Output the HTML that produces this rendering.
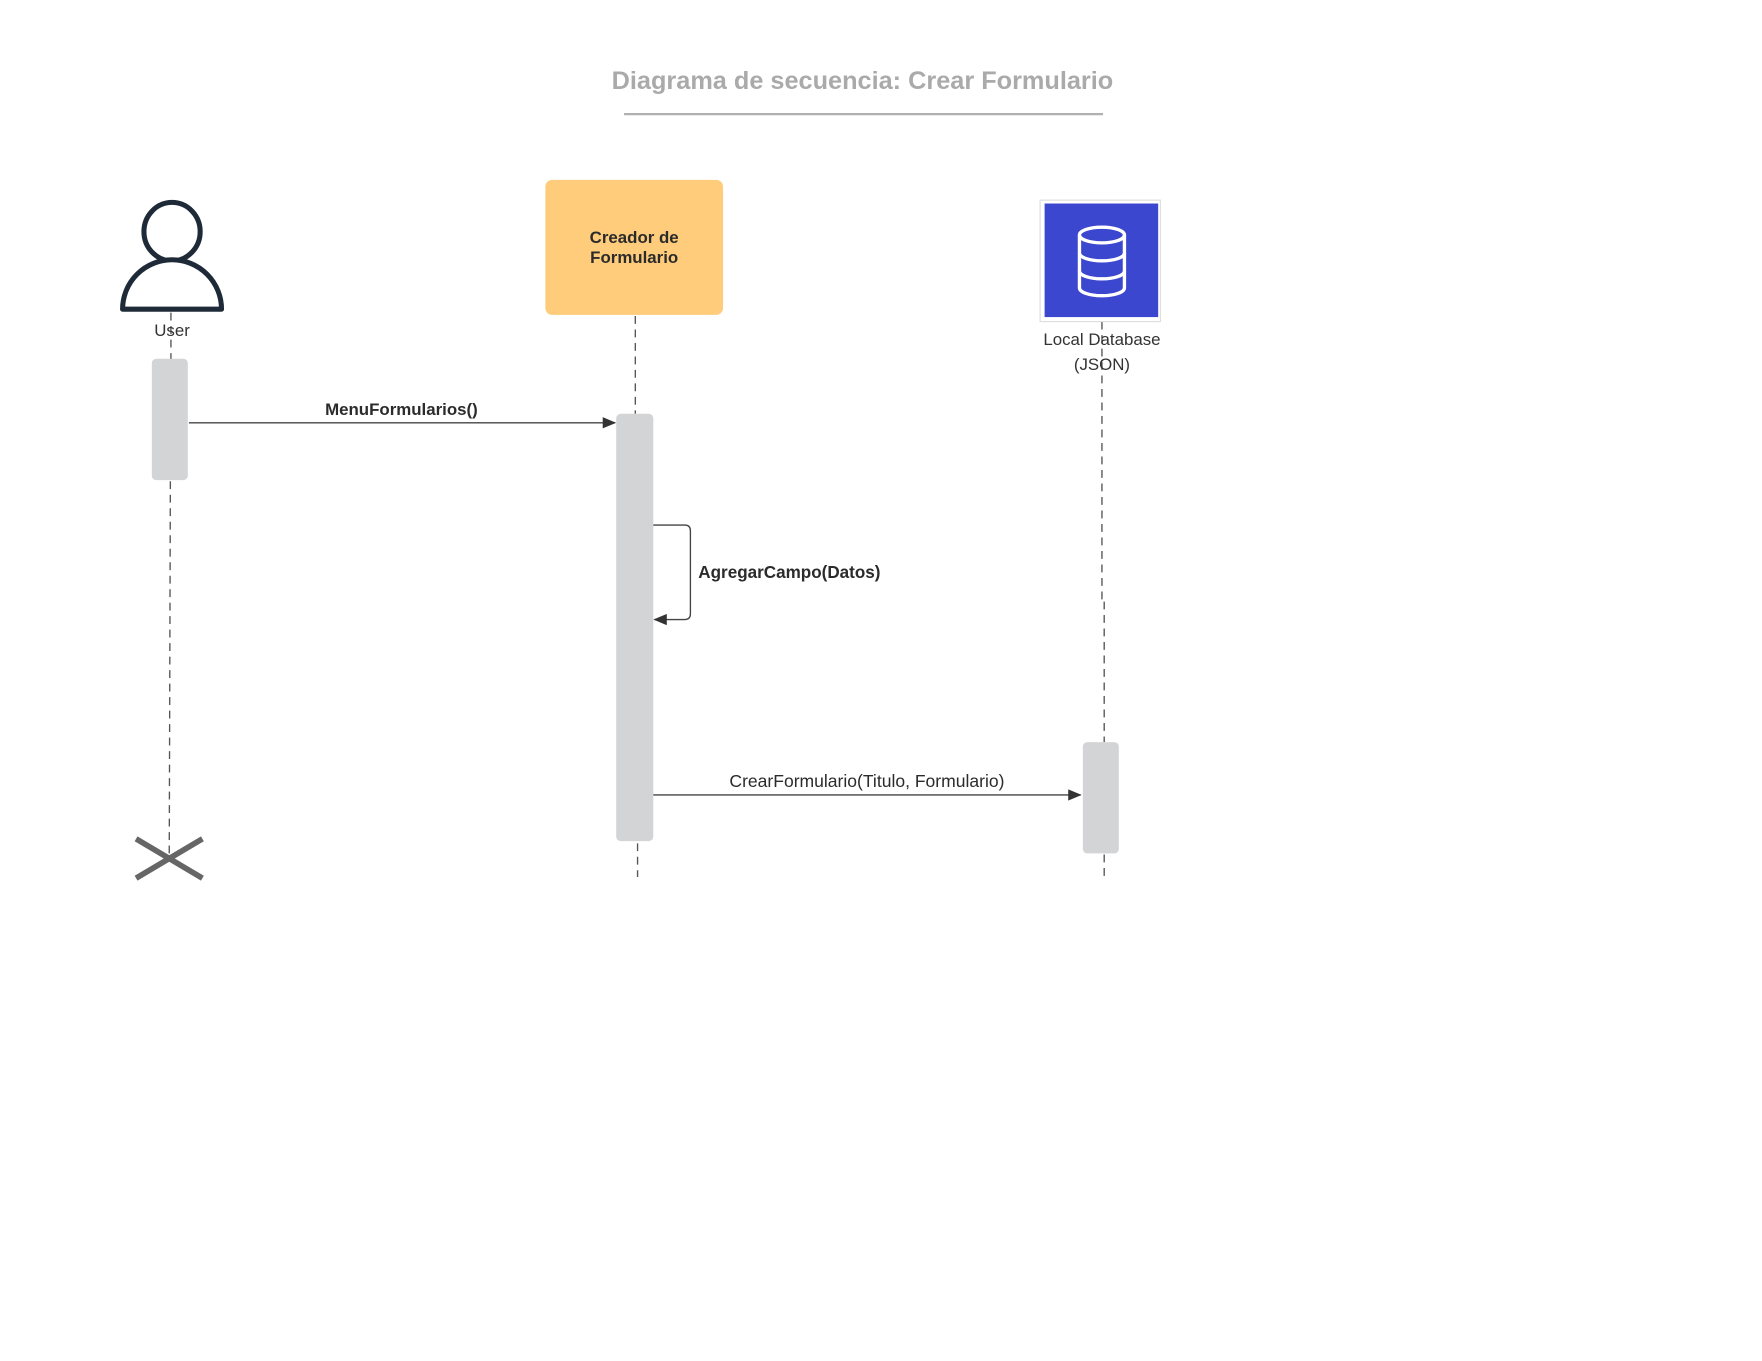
<!DOCTYPE html>
<html><head><meta charset="utf-8"><style>
html,body{margin:0;padding:0;background:#fff;width:1762px;height:1361px;overflow:hidden}
svg{display:block}
text{font-family:"Liberation Sans",sans-serif}
</style></head><body>
<svg width="1762" height="1361" viewBox="0 0 1567 1210.4" xmlns="http://www.w3.org/2000/svg">
<defs>
<marker id="ar" markerWidth="12" markerHeight="10" refX="11" refY="5" orient="auto" markerUnits="userSpaceOnUse">
<path d="M0,0 L12,5 L0,10 z" fill="#333"/></marker>
</defs>
<text x="767" y="79" text-anchor="middle" font-size="22.5" font-weight="bold" fill="#aaaaaa">Diagrama de secuencia: Crear Formulario</text>
<line x1="555" y1="101.5" x2="981" y2="101.5" stroke="#b0b0b0" stroke-width="2"/>

<g stroke="#555" stroke-width="1.2" stroke-dasharray="7,5" fill="none">
<line x1="152" y1="278" x2="152" y2="320"/>
<line x1="151.5" y1="428" x2="150.5" y2="760"/>
<line x1="565" y1="281" x2="565" y2="368"/>
<line x1="567" y1="750" x2="567" y2="780"/>
<line x1="980" y1="286" x2="980" y2="533"/>
<line x1="982" y1="535" x2="982" y2="660"/>
<line x1="982" y1="760" x2="982" y2="780"/>
</g>

<g stroke="#1f2a38" stroke-width="4.5" fill="#fff">
<ellipse cx="153" cy="206" rx="25" ry="26"/>
<path d="M109,275 A44,44 0 0 1 197,275 Z" stroke-linejoin="round"/>
</g>
<text x="153" y="299" text-anchor="middle" font-size="15" fill="#333">User</text>

<rect x="485" y="160" width="158" height="120" rx="6" fill="#fecc7a"/>
<text x="564" y="216" text-anchor="middle" font-size="15" font-weight="bold" fill="#2b2b2b">Creador de</text>
<text x="564" y="234" text-anchor="middle" font-size="15" font-weight="bold" fill="#2b2b2b">Formulario</text>

<rect x="925" y="178" width="107" height="108" fill="#fff" stroke="#ddd" stroke-width="1"/>
<rect x="929" y="181" width="101" height="101" fill="#3b47cf"/>
<g stroke="#fff" stroke-width="3" fill="none">
<ellipse cx="980" cy="209" rx="20" ry="7"/>
<path d="M960,209 V256 A20,7 0 0 0 1000,256 V209"/>
<path d="M960,225 A20,7 0 0 0 1000,225"/>
<path d="M960,241 A20,7 0 0 0 1000,241"/>
</g>
<text x="980" y="307" text-anchor="middle" font-size="15" fill="#333">Local Database</text>
<text x="980" y="329" text-anchor="middle" font-size="15" fill="#333">(JSON)</text>

<rect x="135" y="319" width="32" height="108" rx="4" fill="#d3d4d6"/>
<rect x="548" y="368" width="33" height="380" rx="4" fill="#d3d4d6"/>
<rect x="963" y="660" width="32" height="99" rx="4" fill="#d3d4d6"/>

<line x1="168" y1="376" x2="547" y2="376" stroke="#444" stroke-width="1.2" marker-end="url(#ar)"/>
<text x="357" y="369" text-anchor="middle" font-size="15" font-weight="bold" fill="#2b2b2b">MenuFormularios()</text>

<path d="M581,467 H609 Q614,467 614,472 V546 Q614,551 609,551 H582" fill="none" stroke="#444" stroke-width="1.2" marker-end="url(#ar)"/>
<text x="621" y="514" font-size="15.2" font-weight="bold" fill="#2b2b2b">AgregarCampo(Datos)</text>

<line x1="581" y1="707" x2="961" y2="707" stroke="#444" stroke-width="1.2" marker-end="url(#ar)"/>
<text x="771" y="700" text-anchor="middle" font-size="15.6" fill="#2b2b2b">CrearFormulario(Titulo, Formulario)</text>

<g stroke="#666" stroke-width="5">
<line x1="121" y1="746" x2="180" y2="781"/>
<line x1="180" y1="746" x2="121" y2="781"/>
</g>
</svg>
</body></html>
